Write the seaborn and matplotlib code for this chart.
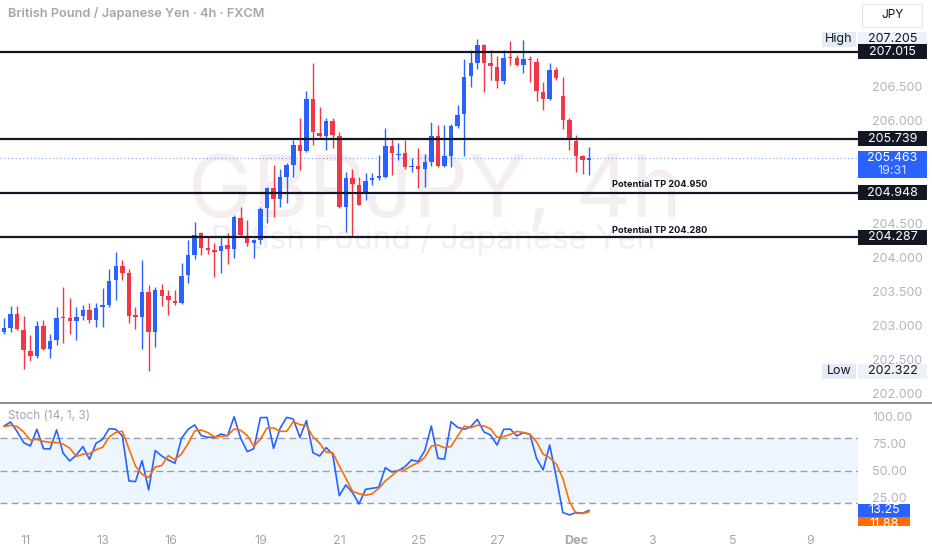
import numpy as np
import pandas as pd
import matplotlib.pyplot as plt
import seaborn as sns
from matplotlib.patches import Rectangle
from matplotlib.lines import Line2D

# 4h candles, GBPJPY
opens = [202.90, 202.96, 203.16, 202.93, 202.62, 202.54, 202.98, 202.64, 202.78, 203.11,
         203.10, 203.06, 203.13, 203.22, 203.08, 203.26, 203.30, 203.66, 203.87, 203.77,
         203.13, 203.12, 203.48, 202.90, 203.52, 203.43, 203.36, 203.32, 203.73, 204.03,
         204.35, 204.13, 204.11, 204.09, 204.17, 204.12, 204.58, 204.30, 204.21, 204.25,
         204.72, 205.02, 204.85, 205.18, 205.36, 205.65, 205.56, 206.32, 205.83, 205.78,
         206.00, 205.78, 204.74, 205.16, 205.06, 204.96, 205.13, 205.16, 205.18, 205.63,
         205.50, 205.53, 205.32, 205.34, 205.29, 205.39, 205.78, 205.34, 205.49, 205.92,
         206.10, 206.66, 206.85, 207.12, 206.86, 206.80, 206.59, 206.93, 206.92, 206.83,
         206.90, 206.87, 206.43, 206.32, 206.75, 206.37, 206.02, 205.70, 205.48, 205.42]
highs = [203.11, 203.28, 203.28, 203.13, 202.85, 203.06, 203.07, 202.87, 203.27, 203.56,
         203.40, 203.27, 203.29, 203.33, 203.32, 203.54, 203.82, 204.07, 203.95, 203.83,
         203.26, 203.96, 203.59, 203.56, 203.61, 203.52, 203.52, 203.91, 204.25, 204.52,
         204.37, 204.30, 204.20, 204.30, 204.35, 204.62, 204.74, 204.54, 204.26, 204.74,
         205.03, 205.36, 205.30, 205.38, 205.72, 206.04, 206.44, 206.85, 206.21, 206.04,
         206.04, 205.84, 205.25, 205.30, 205.18, 205.23, 205.23, 205.50, 205.89, 205.74,
         205.67, 205.72, 205.45, 205.60, 205.52, 205.99, 205.94, 205.94, 205.96, 206.24,
         206.91, 207.04, 207.205, 207.13, 207.04, 206.96, 207.04, 207.17, 206.97, 207.19,
         206.95, 206.92, 206.58, 206.86, 206.79, 206.65, 206.04, 205.79, 205.50, 205.62]
lows = [202.87, 202.89, 202.93, 202.35, 202.47, 202.51, 202.63, 202.51, 202.71, 202.73,
        202.87, 202.78, 203.07, 203.03, 202.97, 202.97, 203.27, 203.37, 203.66, 203.03,
        202.94, 202.64, 202.322, 202.67, 203.28, 203.14, 203.29, 203.31, 203.62, 203.97,
        204.03, 204.04, 203.70, 203.77, 203.90, 203.98, 204.30, 204.16, 203.98, 204.19,
        204.50, 204.59, 204.74, 204.79, 205.18, 205.28, 205.55, 205.65, 205.77, 205.57,
        205.60, 204.72, 204.37, 204.29, 204.76, 204.84, 205.06, 205.13, 205.16, 205.21,
        205.43, 205.30, 205.25, 205.01, 205.03, 205.34, 205.33, 205.33, 205.33, 205.89,
        205.48, 206.50, 206.76, 206.42, 206.61, 206.48, 206.54, 206.82, 206.81, 206.71,
        206.58, 206.30, 206.16, 206.31, 206.61, 205.88, 205.57, 205.25, 205.22, 205.21]
closes = [202.95, 203.16, 202.94, 202.63, 202.54, 202.98, 202.64, 202.76, 203.10, 203.10,
          203.06, 203.12, 203.22, 203.08, 203.25, 203.30, 203.65, 203.87, 203.77, 203.13,
          203.12, 203.48, 202.90, 203.52, 203.43, 203.37, 203.33, 203.72, 204.03, 204.33,
          204.13, 204.11, 204.07, 204.16, 204.12, 204.59, 204.33, 204.21, 204.25, 204.70,
          205.02, 204.85, 205.18, 205.36, 205.65, 205.56, 206.32, 205.84, 205.78, 206.00,
          205.79, 204.74, 205.16, 205.07, 204.77, 205.12, 205.16, 205.19, 205.63, 205.53,
          205.52, 205.33, 205.34, 205.29, 205.39, 205.78, 205.34, 205.49, 205.93, 206.09,
          206.65, 206.85, 207.12, 206.85, 206.81, 206.59, 206.92, 206.92, 206.82, 206.91,
          206.89, 206.44, 206.33, 206.75, 206.63, 206.02, 205.72, 205.49, 205.42, 205.463]

# Stochastic (14, 1, 3)
stoch_k = [91.4, 95.1, 86.2, 76.0, 72.9, 88.3, 70.4, 70.1, 87.7, 66.1,
           59.0, 64.6, 72.3, 60.6, 75.4, 79.1, 89.0, 88.3, 82.2, 40.5,
           39.9, 59.3, 32.2, 68.6, 63.6, 59.9, 56.9, 80.0, 88.3, 92.4,
           82.5, 80.9, 80.9, 84.0, 82.2, 100.0, 80.0, 67.7, 70.4, 99.1,
           99.4, 70.7, 89.3, 99.4, 97.9, 80.9, 96.4, 66.7, 63.6, 71.4,
           65.2, 26.9, 36.8, 29.7, 19.2, 32.8, 33.7, 34.6, 52.8, 48.8,
           50.1, 53.8, 60.0, 58.4, 68.6, 91.4, 61.5, 60.6, 95.4, 90.2,
           88.3, 90.8, 97.6, 85.9, 83.1, 73.8, 88.3, 88.6, 82.2, 85.3,
           83.7, 61.5, 50.7, 73.8, 44.0, 11.2, 9.0, 11.2, 10.6, 13.25]
stoch_d = [91.0, 92.0, 90.9, 85.8, 78.4, 79.1, 77.2, 76.3, 76.1, 74.6,
           70.9, 63.2, 65.3, 65.8, 69.4, 71.7, 81.2, 85.5, 86.5, 70.3,
           54.2, 46.6, 43.8, 53.4, 54.8, 64.0, 60.1, 65.6, 75.1, 86.9,
           87.7, 85.3, 81.4, 81.9, 82.4, 88.7, 87.4, 82.6, 72.7, 79.1,
           89.6, 89.7, 86.5, 86.5, 95.5, 92.7, 91.7, 81.3, 75.6, 67.2,
           66.7, 54.5, 43.0, 31.1, 28.6, 27.2, 28.6, 33.7, 40.4, 45.4,
           50.6, 50.9, 54.6, 57.4, 62.3, 72.8, 73.8, 71.2, 72.5, 82.1,
           91.3, 89.8, 92.2, 91.4, 88.9, 80.9, 81.7, 83.6, 86.4, 85.4,
           83.7, 76.8, 65.3, 62.0, 56.2, 43.0, 21.4, 10.5, 10.3, 11.88]

date_ticks = [3.2, 15.1, 25.3, 39.1, 51.0, 63.0, 75.0, 87.0, 98.6, 110.8, 122.6]
date_labels = ['11', '13', '16', '19', '21', '25', '27', 'Dec', '3', '5', '9']
price_ticks = [206.5, 206.0, 204.5, 204.0, 203.5, 203.0, 202.5, 202.0]
stoch_ticks = [100, 75, 50, 25]
levels = [207.015, 205.739, 204.948, 204.287]
tp_levels = [204.950, 204.280]
high_price = 207.205
low_price = 202.322
last_price = 205.463
countdown = '19:31'

BLUE, RED, ORANGE = '#2962ff', '#f23645', '#ff6d00'
INK, GREY = '#131722', '#b2b5be'

sns.set_theme(style='white')
plt.rcParams['font.family'] = ['Inter', 'DejaVu Sans']

W, H = 932, 550
fig = plt.figure(figsize=(W / 100, H / 100), dpi=100)
fig.patch.set_facecolor('white')
ax = fig.add_axes([0, 1 - 402 / H, 858 / W, 402 / H])
ax2 = fig.add_axes([0, 1 - 528 / H, 858 / W, 124 / H])

xlim = (-0.61, 129.9)

# --- price pane ---
df = pd.DataFrame({'o': opens, 'h': highs, 'l': lows, 'c': closes})
df['i'] = np.arange(len(df))
colors = np.where(df['c'] >= df['o'], BLUE, RED)
ax.vlines(df['i'], df['l'], df['h'], colors=colors, lw=1, zorder=3)
body = (df['c'] - df['o']).abs().clip(lower=0.02)
ax.bar(df['i'], body, bottom=np.minimum(df['o'], df['c']), width=0.68,
       color=colors, linewidth=0, zorder=4)

for lv in levels:
    ax.axhline(lv, color=INK, lw=1.6, zorder=5)
ax.axhline(last_price, color=BLUE, lw=0.9, ls=(0, (1, 2)), alpha=0.55, zorder=2)

for lv in tp_levels:
    ax.text(92.5, lv + 0.045, f'Potential TP {lv:.3f}', fontsize=6.6, fontweight='bold',
            color=INK, ha='left', va='bottom', zorder=6)

# faint symbol watermark
ax.text(0.507, 0.515, 'GBPJPY, 4h', transform=ax.transAxes, fontsize=62,
        color='#f4eef1', ha='center', va='center', zorder=0)
ax.text(0.505, 0.403, 'British Pound / Japanese Yen', transform=ax.transAxes,
        fontsize=23, color='#f4eef1', ha='center', va='center', zorder=0)

ax.set_xlim(*xlim)
ax.set_ylim(201.868, 207.779)
ax.set_xticks([])
ax.yaxis.tick_right()
ax.set_yticks(price_ticks, [f'{t:.3f}' for t in price_ticks])
ax.tick_params(axis='y', length=0, pad=10, labelsize=9, labelcolor=GREY)

# --- stochastic pane ---
stoch = pd.DataFrame({'i': np.arange(len(stoch_k)), 'K': stoch_k, 'D': stoch_d})
ax2.axhspan(20, 80, color='#2196f3', alpha=0.08, lw=0, zorder=0)
for lv in (80, 50, 20):
    ax2.axhline(lv, color='#9a9da6', lw=1, ls=(0, (5, 3)), zorder=1)
sns.lineplot(data=stoch, x='i', y='K', ax=ax2, color=BLUE, lw=1.2, zorder=3)
sns.lineplot(data=stoch, x='i', y='D', ax=ax2, color=ORANGE, lw=1.2, zorder=4)
ax2.set_xlabel('')
ax2.set_ylabel('')
ax2.set_xlim(*xlim)
ax2.set_ylim(-3.1, 111.8)
ax2.yaxis.tick_right()
ax2.set_yticks(stoch_ticks, [f'{t:.2f}' for t in stoch_ticks])
ax2.tick_params(axis='y', length=0, pad=10, labelsize=9, labelcolor=GREY)
ax2.set_xticks(date_ticks, date_labels)
ax2.tick_params(axis='x', length=0, pad=5, labelsize=9, labelcolor='#a3a6af')
for lbl in ax2.get_xticklabels():
    if lbl.get_text() == 'Dec':
        lbl.set_fontweight('bold')
ax2.text(8 / 858, 0.9, 'Stoch (14, 1, 3)', transform=ax2.transAxes, fontsize=8.5,
         color='#a3a6af', ha='left', va='center')

for a in (ax, ax2):
    a.set_facecolor('white')
    for s in a.spines.values():
        s.set_visible(False)

# pane separator
fig.add_artist(Line2D([0, 1], [1 - 403 / H] * 2, color='#8c8c8c', lw=1.4))

# --- right-hand price tags ---
inv = fig.transFigure.inverted()


def y_of(axis, value):
    return inv.transform(axis.transData.transform((0, value)))[1]


def tag(yc, text, fc, tc, x0=858, x1=927, h=15, weight='normal', size=9):
    fig.add_artist(Rectangle((x0 / W, yc - h / 2 / H), (x1 - x0) / W, h / H,
                             transform=fig.transFigure, fc=fc, ec='none', zorder=5))
    fig.text((x0 + x1) / 2 / W, yc, text, fontsize=size, color=tc, fontweight=weight,
             ha='center', va='center', zorder=6)


yh = y_of(ax, high_price)
tag(yh, 'High', '#e4ebf5', INK, x0=822, x1=856)
tag(yh, f'{high_price:.3f}', '#edf1f8', INK)
for lv in levels:
    tag(y_of(ax, lv), f'{lv:.3f}', INK, 'white')
yl = y_of(ax, low_price)
tag(yl, 'Low', '#e4ebf5', INK, x0=822, x1=856)
tag(yl, f'{low_price:.3f}', '#edf1f8', INK)

yp = y_of(ax, last_price)
fig.add_artist(Rectangle((858 / W, yp - 20 / H), 69 / W, 27 / H, transform=fig.transFigure,
                         fc=BLUE, ec='none', zorder=5))
fig.text(892.5 / W, yp, f'{last_price:.3f}', fontsize=9, color='white',
         ha='center', va='center', zorder=6)
fig.text(892.5 / W, yp - 13 / H, countdown, fontsize=9, color='#d6e0ff',
         ha='center', va='center', zorder=6)

yk = y_of(ax2, stoch_k[-1])
tag(yk, f'{stoch_k[-1]:.2f}', BLUE, 'white', x1=910, h=13)
tag(yk - 14 / H, f'{stoch_d[-1]:.2f}', ORANGE, 'white', x1=910, h=14)
fig.add_artist(Rectangle((855 / W, 0), 77 / W, 24 / H, transform=fig.transFigure,
                         fc='white', ec='none', zorder=7))

# currency box + title
fig.add_artist(Rectangle((862 / W, 1 - 27 / H), 60 / W, 23 / H, transform=fig.transFigure,
                         fc='white', ec='#e0e3eb', lw=0.8, zorder=5))
fig.text(892 / W, 1 - 15 / H, 'JPY', fontsize=8.5, color=INK, ha='center', va='center', zorder=6)
fig.text(8 / W, 1 - 14 / H, 'British Pound / Japanese Yen · 4h · FXCM', fontsize=9.2,
         fontweight='semibold', color='#a3a6af', ha='left', va='center')

fig.savefig('out.png', dpi=100, facecolor='white')
